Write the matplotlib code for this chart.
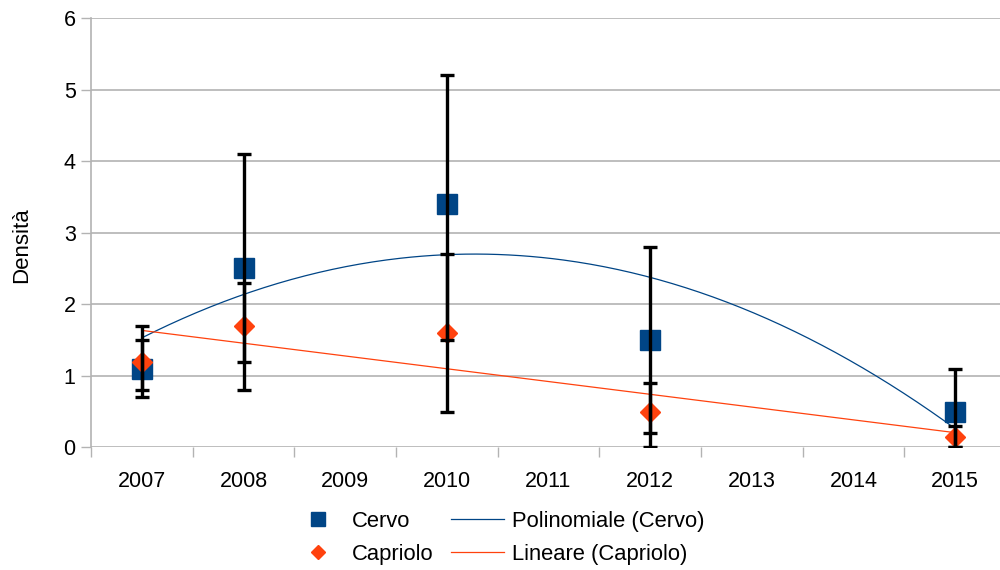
import numpy as np
import matplotlib
matplotlib.use("Agg")
import matplotlib.pyplot as plt
from matplotlib.ticker import MultipleLocator

plt.rcParams['font.family'] = ['Liberation Sans', 'DejaVu Sans']

# Survey years and densities
years = [2007, 2008, 2010, 2012, 2015]
year_labels = [str(y) for y in range(2007, 2016)]

cervo = [1.1, 2.5, 3.4, 1.5, 0.5]
cervo_err_low = [0.4, 1.7, 1.9, 1.3, 0.5]
cervo_err_high = [0.4, 1.6, 1.8, 1.3, 0.6]

capriolo = [1.2, 1.7, 1.6, 0.5, 0.14]
capriolo_err_low = [0.4, 0.5, 1.1, 0.5, 0.14]
capriolo_err_high = [0.5, 0.6, 1.1, 0.4, 0.16]

BLUE = '#004586'
ORANGE = '#ff420e'
GRID = '#b3b3b3'

fig = plt.figure(figsize=(10, 5.7), dpi=100)
ax = fig.add_axes([0.091, 0.215, 0.915, 0.7535])

x = np.array(years, dtype=float)

# trend lines fitted on the data
xs = np.linspace(min(years), max(years), 300)
poly = np.polyfit(x, cervo, 2)
lin = np.polyfit(x, capriolo, 1)
ax.plot(xs, np.polyval(poly, xs), color=BLUE, lw=0.9, zorder=2,
        label='Polinomiale (Cervo)')
ax.plot(xs, np.polyval(lin, xs), color=ORANGE, lw=0.9, zorder=2,
        label='Lineare (Capriolo)')

# markers
ax.plot(x, cervo, ls='none', marker='s', ms=14.5, color=BLUE, zorder=3,
        label='Cervo')
ax.plot(x, capriolo, ls='none', marker='D', ms=10, color=ORANGE, zorder=4,
        label='Capriolo')

# error bars drawn over the markers
for vals, lo, hi in [(cervo, cervo_err_low, cervo_err_high),
                     (capriolo, capriolo_err_low, capriolo_err_high)]:
    ax.errorbar(x, vals, yerr=[lo, hi], fmt='none', ecolor='black',
                elinewidth=2.4, capsize=5, capthick=2.4, zorder=5)

ax.set_xlim(2006.5, 2015.5)
ax.set_ylim(0, 6)
ax.set_xticks(range(2007, 2016))
ax.set_xticklabels(year_labels)
ax.xaxis.set_minor_locator(MultipleLocator(1, offset=0.5))
ax.tick_params(axis='x', which='major', length=0, pad=17, labelsize=15.5)
ax.tick_params(axis='x', which='minor', length=7, width=1, color=GRID)
ax.set_yticks(range(0, 7))
ax.tick_params(axis='y', length=7, width=1, color=GRID, pad=4, labelsize=15.5)

ax.yaxis.grid(True, color=GRID, lw=1.2)
ax.set_axisbelow(True)
for s in ['top', 'right', 'bottom']:
    ax.spines[s].set_visible(False)
ax.spines['left'].set_color(GRID)
ax.spines['left'].set_linewidth(1.2)

ax.set_ylabel('Densità', fontsize=16)
ax.yaxis.set_label_coords(-0.064, 0.47)

handles, labels = ax.get_legend_handles_labels()
order = [2, 3, 0, 1]
fig.legend([handles[i] for i in order], [labels[i] for i in order],
           loc='center', bbox_to_anchor=(0.498, 0.056), ncol=2, frameon=False,
           fontsize=15.8, handlelength=2.4, handletextpad=0.35,
           columnspacing=0.8, labelspacing=0.55, markerscale=0.7)

fig.savefig('out.png', dpi=100)
